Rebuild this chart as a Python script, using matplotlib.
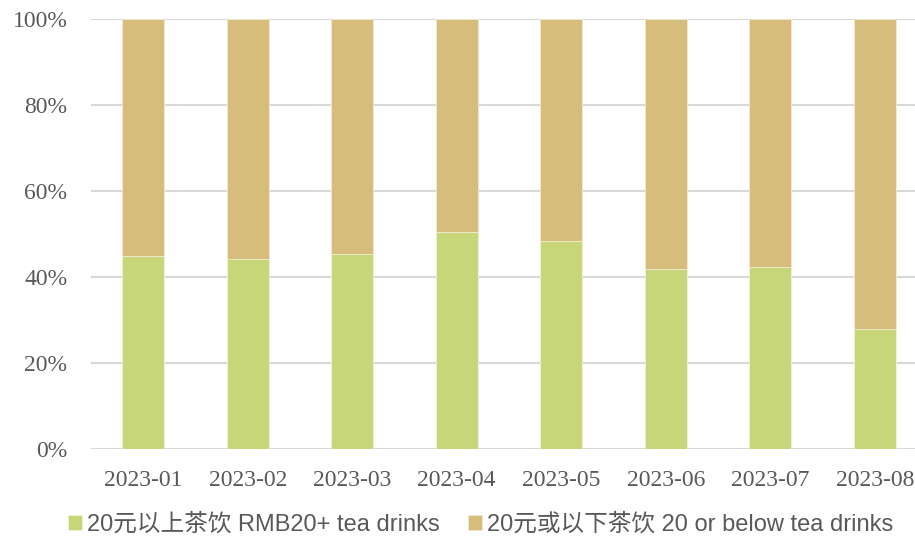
import matplotlib
matplotlib.use('Agg')
import numpy as np
import matplotlib.pyplot as plt
from matplotlib.ticker import PercentFormatter

months = ['2023-01', '2023-02', '2023-03', '2023-04',
          '2023-05', '2023-06', '2023-07', '2023-08']
above20 = [44.9, 44.1, 45.3, 50.4, 48.3, 41.9, 42.3, 28.0]
below20 = [100 - v for v in above20]
labels = ['20元以上茶饮 RMB20+ tea drinks', '20元或以下茶饮 20 or below tea drinks']

green = '#c8d67a'
tan = '#d6bd7c'
grey = '#595959'

fig = plt.figure(figsize=(9.15, 5.38), dpi=100)
ax = fig.add_axes([91/915, 89/538, 836/915, 430/538])

x = np.arange(len(months))
b1 = ax.bar(x, above20, width=0.4, color=green, edgecolor='#f0f3dc', lw=0.6, zorder=3)
b2 = ax.bar(x, below20, width=0.4, bottom=above20, color=tan, edgecolor='#f3ead0', lw=0.6, zorder=3)

ax.set_xlim(-0.5, 7.5)
ax.set_ylim(0, 100)
ax.set_yticks(np.arange(0, 101, 20))
ax.yaxis.set_major_formatter(PercentFormatter(decimals=0))
ax.set_xticks(x)
ax.set_xticklabels(months)
ax.grid(axis='y', color='#d9d9d9', lw=1.5, zorder=0)
for s in ax.spines.values():
    s.set_visible(False)
ax.tick_params(length=0, colors=grey, labelsize=17, pad=15)
ax.tick_params(axis='y', pad=17)
for t in ax.get_xticklabels() + ax.get_yticklabels():
    t.set_fontfamily('Liberation Serif')

leg = fig.legend([b1, b2], labels, loc='lower center', bbox_to_anchor=(0.525, -0.036),
                 ncol=2, frameon=False, handlelength=0.6, handleheight=0.6,
                 handletextpad=0.2, columnspacing=1.2,
                 prop={'family': ['Liberation Sans', 'Noto Sans CJK SC'], 'size': 17})
for t in leg.get_texts():
    t.set_color(grey)

plt.savefig('out.png', dpi=100)
